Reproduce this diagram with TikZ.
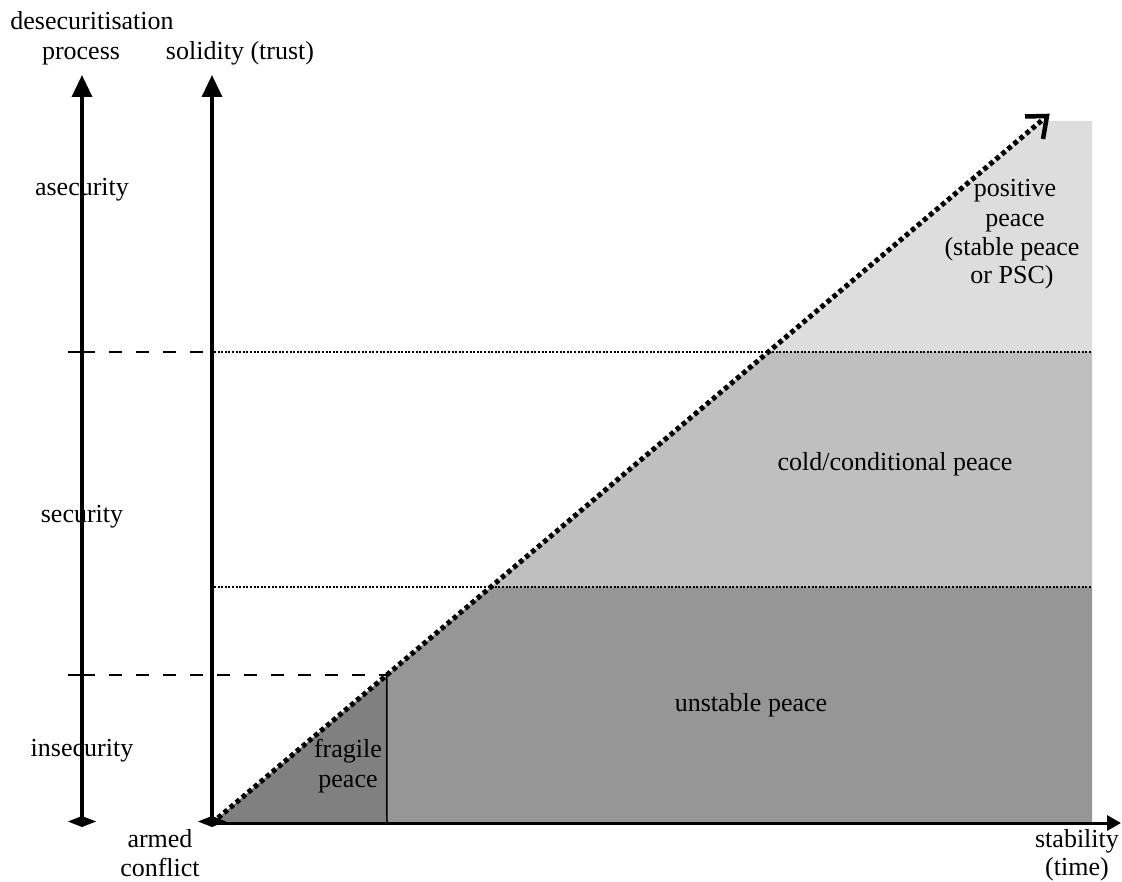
\documentclass[tikz,border=0pt]{standalone}
\usepackage{fontspec}
\setmainfont{Liberation Serif}
\usetikzlibrary{arrows.meta}
\definecolor{fragilec}{gray}{0.50}
\definecolor{unstablec}{gray}{0.59}
\definecolor{coldc}{gray}{0.75}
\definecolor{positivec}{gray}{0.867}
\tikzset{
  lbl/.style={anchor=base, inner sep=0pt, font=\fontsize{26}{29}\selectfont},
  axisline/.style={line width=3.5pt, {Diamond[length=11pt,width=28pt]}-{Triangle[length=22pt,width=20pt]}},
  timeaxis/.style={line width=3pt, -{Triangle[length=14pt,width=15pt]}},
  bandline/.style={line width=2.3pt, dash pattern=on 2pt off 1.6pt},
  guideline/.style={line width=1.3pt, dash pattern=on 13pt off 14pt},
  guidetick/.style={line width=1.3pt},
  trend/.style={line width=5pt, dash pattern=on 4.5pt off 3.4pt},
  barb/.style={line width=4.5pt, miter limit=10},
}
\begin{document}
\begin{tikzpicture}[x=1pt,y=-1pt]
\useasboundingbox (0,0) rectangle (1122,882);
% key points
\coordinate (O) at (212,823);
\coordinate (T) at (1047,116);
\coordinate (F) at (386.8,675);
\coordinate (U) at (490.7,587);
\coordinate (C) at (768.2,352);
\coordinate (P) at (1040.9,121);
% shaded regions
\fill[fragilec] (O) -- (F) -- (387,823) -- cycle;
\fill[unstablec] (F) -- (U) -- (1092,587) -- (1092,823) -- (387,823) -- cycle;
\fill[coldc] (U) -- (C) -- (1092,352) -- (1092,587) -- cycle;
\fill[positivec] (C) -- (P) -- (1092,121) -- (1092,352) -- cycle;
% fragile boundary
\coordinate (Fb) at (387,823);
\draw[line width=1.5pt] (F) -- (Fb);
% band boundaries
\coordinate (b1a) at (214,352); \coordinate (b1b) at (1092,352);
\coordinate (b2a) at (214,587); \coordinate (b2b) at (1092,587);
\draw[bandline] (b1a) -- (b1b);
\draw[bandline] (b2a) -- (b2b);
% dashed guides
\coordinate (g1s) at (68,352); \coordinate (g1m) at (82,352);
\coordinate (g2s) at (68,675); \coordinate (g2m) at (82,675);
\draw[guidetick] (g1s) -- (g1m);
\draw[guideline] (g1m) -- (b1a);
\draw[guidetick] (g2s) -- (g2m);
\draw[guideline] (g2m) -- (F);
% axes
\coordinate (a1b) at (82,827); \coordinate (a1t) at (82,75);
\coordinate (a2b) at (212,827); \coordinate (a2t) at (212,75);
\coordinate (a3e) at (1121,823);
\draw[axisline] (a1b) -- (a1t);
\draw[axisline] (a2b) -- (a2t);
\draw[timeaxis] (O) -- (a3e);
% trend arrow with open barb
\draw[trend] (O) -- (T);
\coordinate (barbL) at (1025,116.5);
\coordinate (barbD) at (1043,139);
\draw[barb] (barbL) -- (T) -- (barbD);
% labels
\node[lbl] (desec1) at (92,30) {desecuritisation};
\node[lbl] (desec2) at (81,60) {process};
\node[lbl] (solid) at (240,60) {solidity (trust)};
\node[lbl] (asec) at (82,196) {asecurity};
\node[lbl] (sec) at (82,522) {security};
\node[lbl] (insec) at (82,756) {insecurity};
\node[lbl] (armed1) at (160,847) {armed};
\node[lbl] (armed2) at (160,876) {conflict};
\node[lbl] (stab1) at (1077,847) {stability};
\node[lbl] (stab2) at (1077,875) {(time)};
\node[lbl] (frag1) at (348,757) {fragile};
\node[lbl] (frag2) at (348,787) {peace};
\node[lbl] (unst) at (751,711) {unstable peace};
\node[lbl] (cold) at (895,470) {cold/conditional peace};
\node[lbl] (pos1) at (1015,197) {positive};
\node[lbl] (pos2) at (1015,227) {peace};
\node[lbl] (pos3) at (1012,256) {(stable peace};
\node[lbl] (pos4) at (1012,284) {or PSC)};
\end{tikzpicture}
\end{document}
